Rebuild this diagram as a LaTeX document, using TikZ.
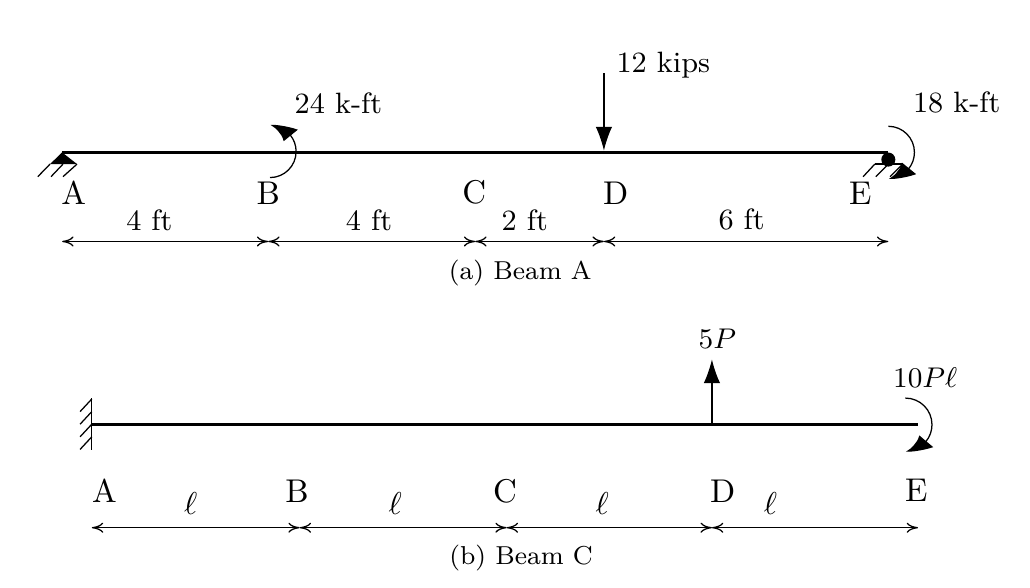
\documentclass[tikz,border=0pt]{standalone}
\usepackage{amsmath}
\usetikzlibrary{arrows.meta,bending}

\tikzset{
	beam/.style={line width=1pt},
	bighead/.style={-{Latex[length=7.5pt,width=5.8pt,bend]}},
	forcehead/.style={-{Latex[length=7.5pt,width=5.2pt]}},
	dimline/.style={{To[length=3.6pt,width=3.2pt]}-{To[length=3.6pt,width=3.2pt]}},
	dimtext/.style={font=\fontsize{9.3}{11}\selectfont},
	pointtext/.style={font=\fontsize{10.4}{12}\selectfont},
	caption/.style={font=\fontsize{8.2}{10}\selectfont},
}

\begin{document}
\begin{tikzpicture}
	\useasboundingbox (0,0) rectangle (11.444,6.533);

	% Beam A
	\coordinate (Aa) at (0.69,4.84);
	\coordinate (Ae) at (9.87,4.84);
	\coordinate (Df) at (6.71,4.86);
	\coordinate (Dt) at (6.71,5.72);
	\draw[beam] (Aa) -- (Ae);
	\fill (Aa) -- (0.556,4.71) -- (0.856,4.71) -- cycle;
	\draw (0.556,4.71) -- (0.42,4.57);
	\draw (0.7,4.71) -- (0.567,4.57);
	\draw (0.856,4.71) -- (0.7,4.57);
	\fill (9.87,4.76) circle (0.078);
	\draw (9.72,4.71) -- (10.03,4.71);
	\draw (9.72,4.71) -- (9.59,4.57);
	\draw (9.87,4.71) -- (9.73,4.57);
	\draw (10.03,4.71) -- (9.89,4.57);
	\draw[forcehead] (Dt) -- (Df);
	\draw[bighead] (3,4.56) arc[start angle=-90,end angle=90,radius=0.29];
	\draw[bighead] (9.87,5.13) arc[start angle=90,end angle=-90,radius=0.29];
	\node[dimtext] (load) at (7.37,5.81) {12 kips};
	\node[dimtext] (mb) at (3.76,5.39) {24 k-ft};
	\node[dimtext] (me) at (10.63,5.39) {18 k-ft};
	\node[pointtext] (a1) at (0.82,4.39) {A};
	\node[pointtext] (b1) at (2.98,4.39) {B};
	\node[pointtext] (c1) at (5.27,4.4) {C};
	\node[pointtext] (d1) at (6.84,4.39) {D};
	\node[pointtext] (e1) at (9.56,4.39) {E};
	\node[dimtext] (l1) at (1.66,4.09) {4 ft};
	\node[dimtext] (l2) at (4.1,4.09) {4 ft};
	\node[dimtext] (l3) at (5.83,4.09) {2 ft};
	\node[dimtext] (l4) at (8.24,4.09) {6 ft};
	\coordinate (p1) at (0.69,3.85);
	\coordinate (p2) at (2.98,3.85);
	\coordinate (p3) at (5.28,3.85);
	\coordinate (p4) at (6.71,3.85);
	\coordinate (p5) at (9.87,3.85);
	\draw[dimline] (p1) -- (p2);
	\draw[dimline] (p2) -- (p3);
	\draw[dimline] (p3) -- (p4);
	\draw[dimline] (p4) -- (p5);
	\node[caption] (capa) at (5.78,3.5) {(a) Beam A};

	% Beam C
	\coordinate (Ca) at (1.02,1.82);
	\coordinate (Ce) at (10.2,1.82);
	\coordinate (Cf) at (7.91,1.82);
	\coordinate (Ct) at (7.91,2.54);
	\draw[beam] (Ca) -- (Ce);
	\draw (1.02,2.11) -- (1.02,1.53);
	\foreach \y in {2.1,1.96,1.82,1.68}
		\draw (1.02,\y) -- (0.89,\y-0.14);
	\draw[forcehead] (Cf) -- (Ct);
	\draw[bighead] (10.06,2.11) arc[start angle=90,end angle=-90,radius=0.295];
	\node[dimtext] (force) at (7.97,2.77) {$5P$};
	\node[dimtext] (mc) at (10.28,2.34) {$10P\ell$};
	\node[pointtext] (a2) at (1.16,1.08) {A};
	\node[pointtext] (b2) at (3.3,1.08) {B};
	\node[pointtext] (c2) at (5.61,1.08) {C};
	\node[pointtext] (d2) at (8.03,1.08) {D};
	\node[pointtext] (e2) at (10.18,1.08) {E};
	\node[pointtext] (n1) at (2.12,0.94) {$\ell$};
	\node[pointtext] (n2) at (4.39,0.94) {$\ell$};
	\node[pointtext] (n3) at (6.69,0.94) {$\ell$};
	\node[pointtext] (n4) at (8.56,0.94) {$\ell$};
	\coordinate (q1) at (1.02,0.67);
	\coordinate (q2) at (3.33,0.67);
	\coordinate (q3) at (5.63,0.67);
	\coordinate (q4) at (7.91,0.67);
	\coordinate (q5) at (10.2,0.67);
	\draw[dimline] (q1) -- (q2);
	\draw[dimline] (q2) -- (q3);
	\draw[dimline] (q3) -- (q4);
	\draw[dimline] (q4) -- (q5);
	\node[caption] (capc) at (5.79,0.33) {(b) Beam C};
\end{tikzpicture}
\end{document}
